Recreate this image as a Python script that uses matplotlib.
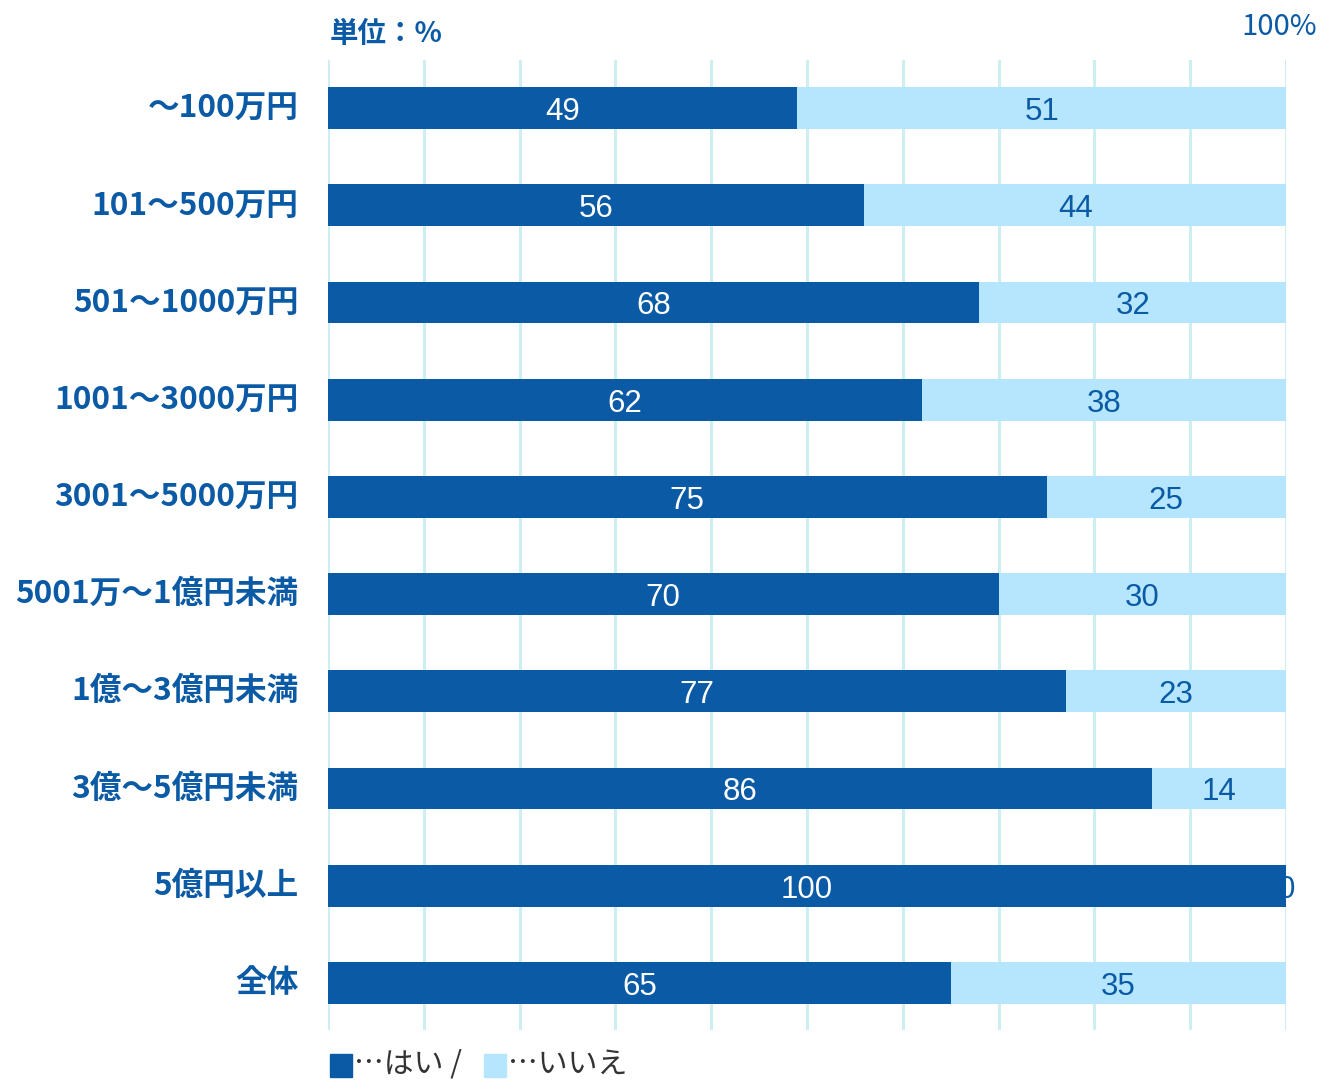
import matplotlib
matplotlib.use("Agg")
import matplotlib.pyplot as plt
import numpy as np

# Survey results by company size (unit: %)
categories = ["～100万円", "101～500万円", "501～1000万円", "1001～3000万円",
              "3001～5000万円", "5001万～1億円未満", "1億～3億円未満",
              "3億～5億円未満", "5億円以上", "全体"]
yes_values = [49, 56, 68, 62, 75, 70, 77, 86, 100, 65]
no_values = [51, 44, 32, 38, 25, 30, 23, 14, 0, 35]
series_names = ["はい", "いいえ"]

DARK = "#0a5aa5"
LIGHT = "#b5e6fd"
GRID = "#cdeff0"
LEGEND_TEXT = "#333333"

JP = ["Noto Sans CJK JP", "DejaVu Sans"]
NUM = ["Liberation Sans", "DejaVu Sans"]

fig = plt.figure(figsize=(13.21, 10.80), dpi=100)
ax = fig.add_axes([328 / 1321, 1 - 1030 / 1080, 958 / 1321, 970 / 1080])

y = np.arange(len(categories))
bar_h = 0.43

ax.barh(y, yes_values, height=bar_h, color=DARK, zorder=3)
ax.barh(y, no_values, left=yes_values, height=bar_h, color=LIGHT, zorder=3)

for yi, a, b in zip(y, yes_values, no_values):
    ax.text(a / 2, yi + 0.04, f"{a}", ha="center", va="center", color="white",
            fontsize=22.5, family=NUM, zorder=4)
    ax.text(a + b / 2, yi + 0.04, f"{b}", ha="center", va="center", color=DARK,
            fontsize=22.5, family=NUM, zorder=4 if b > 0 else 2, clip_on=False)

ax.set_xlim(0, 100)
ax.set_ylim(len(categories) - 1 + 0.485, -0.495)
ax.set_xticks(np.arange(0, 101, 10))
ax.set_yticks([])
ax.set_xticklabels([])
ax.tick_params(axis="x", length=0)
ax.grid(axis="x", color=GRID, linewidth=2.2, zorder=0)
ax.set_axisbelow(True)
for s in ax.spines.values():
    s.set_visible(False)

# category labels, right-aligned to the left of the bars
for yi, c in zip(y, categories):
    ax.text(-3.1, yi, c, ha="right", va="center", color=DARK, fontsize=22.8,
            fontweight="bold", family=JP, transform=ax.transData, clip_on=False)

fig.text(330 / 1321, 1 - 34 / 1080, "単位：%", ha="left", va="center",
         color=DARK, fontsize=20.5, fontweight="bold", family=JP)
fig.text(1317 / 1321, 1 - 27 / 1080, "100%", ha="right", va="center",
         color=DARK, fontsize=21, family=JP)

# legend line at the bottom
fig.patches.append(plt.Rectangle((330 / 1321, 1 - 1077 / 1080), 22 / 1321, 23 / 1080,
                                 transform=fig.transFigure, color=DARK))
fig.text(354 / 1321, 1 - 1064 / 1080, f"…{series_names[0]} /", ha="left", va="center",
         color=LEGEND_TEXT, fontsize=21.5, family=JP)
fig.patches.append(plt.Rectangle((484 / 1321, 1 - 1077 / 1080), 22 / 1321, 23 / 1080,
                                 transform=fig.transFigure, color=LIGHT))
fig.text(508 / 1321, 1 - 1064 / 1080, f"…{series_names[1]}", ha="left", va="center",
         color=LEGEND_TEXT, fontsize=21.5, family=JP)

fig.savefig("out.png", dpi=100)
